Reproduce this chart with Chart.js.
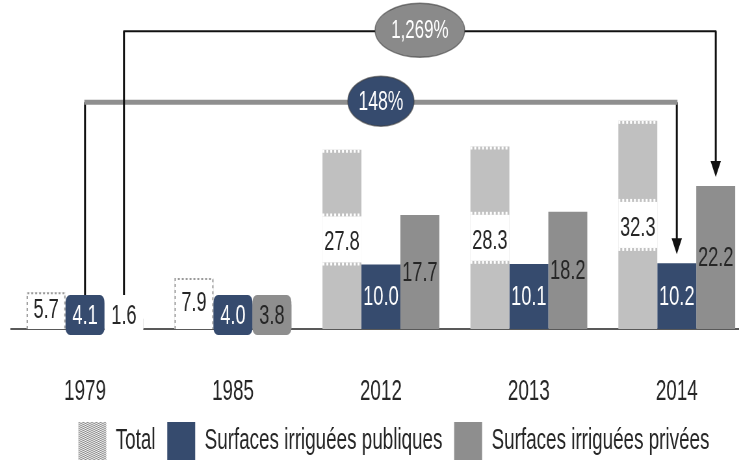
<!DOCTYPE html>
<html>
<head>
<meta charset="utf-8">
<script src="https://cdn.jsdelivr.net/npm/chart.js@4"></script>
<style>
  html, body { margin: 0; padding: 0; overflow: hidden; background: #fff; }
  /* drawn wide, then narrowed so the type comes out tall and condensed */
  #chart { display: block; width: 1160px; height: 470px; transform: scaleX(0.65); transform-origin: 0 0; }
</style>
</head>
<body>
<canvas id="chart" width="1160" height="470"></canvas>
<script>
const years = ['1979', '1985', '2012', '2013', '2014'];
const totalArea = [5.7, 7.9, 27.8, 28.3, 32.3];
const publicArea = [4.1, 4.0, 10.0, 10.1, 10.2];
const privateArea = [1.6, 3.8, 17.7, 18.2, 22.2];
const seriesNames = ['Total', 'Surfaces irriguées publiques', 'Surfaces irriguées privées'];
const growthLabels = ['148%', '1,269%'];

const FONT = '"Liberation Sans", Arial, sans-serif';
const colors = { total: '#c0c0c0', public: '#364b6e', private: '#8e8e8e', text: '#262626' };

const canvas = document.getElementById('chart');

// small diagonal dot pattern for the "Total" legend swatch
function hatchPattern() {
  const c = document.createElement('canvas');
  c.width = 4; c.height = 4;
  const g = c.getContext('2d');
  g.fillStyle = '#f4f4f4';
  g.fillRect(0, 0, 4, 4);
  g.fillStyle = '#8a8a8a';
  for (let i = 0; i < 4; i++) {
    g.fillRect(i, i, 1, 1);
    g.fillRect((i + 2) % 4, i, 1, 1);
  }
  return canvas.getContext('2d').createPattern(c, 'repeat');
}

const LABEL_BOX = 40;

function labelCenter(bar, base) {
  return Math.min((bar.y + base) / 2, base - 14);
}

// value labels; the total bars get a white gap behind their label
const barLabels = {
  id: 'barLabels',
  afterDatasetsDraw(chart) {
    const ctx = chart.ctx;
    const base = chart.scales.y.getPixelForValue(0);
    ctx.save();
    ctx.font = `28px ${FONT}`;
    ctx.textAlign = 'center';
    ctx.textBaseline = 'middle';
    chart.data.datasets.forEach((ds, di) => {
      chart.getDatasetMeta(di).data.forEach((bar, i) => {
        const value = ds.data[i];
        const w = bar.width;
        const left = bar.x - w / 2;
        const h = base - bar.y;
        const mid = (bar.y + base) / 2;
        const text = value.toFixed(1);

        if (di === 0) {
          if (h > 60) {
            const gTop = mid - 23, gBot = mid + 23;
            ctx.fillStyle = '#fff';
            ctx.fillRect(left, gTop, w, gBot - gTop);
            ctx.strokeStyle = '#fff';
            ctx.lineWidth = 3;
            ctx.setLineDash([3, 3]);
            [bar.y + 1.5, gTop - 1.5, gBot + 1.5].forEach(y => {
              ctx.beginPath();
              ctx.moveTo(left, y);
              ctx.lineTo(left + w, y);
              ctx.stroke();
            });
            ctx.setLineDash([]);
            ctx.fillStyle = colors.text;
            ctx.fillText(text, bar.x, mid + 3);
          } else {
            ctx.fillStyle = '#fff';
            ctx.fillRect(left, bar.y, w, h);
            ctx.strokeStyle = '#9a9a9a';
            ctx.lineWidth = 2;
            ctx.setLineDash([3, 3]);
            ctx.beginPath();
            ctx.moveTo(left + 1, base);
            ctx.lineTo(left + 1, bar.y + 1);
            ctx.lineTo(left + w - 1, bar.y + 1);
            ctx.lineTo(left + w - 1, base);
            ctx.stroke();
            ctx.setLineDash([]);
            ctx.fillStyle = colors.text;
            ctx.fillText(text, bar.x, mid);
          }
          return;
        }

        const cy = labelCenter(bar, base);
        const tiny = h < 20;
        if (h < LABEL_BOX) {
          ctx.fillStyle = tiny ? '#fff' : ds.backgroundColor;
          ctx.beginPath();
          ctx.roundRect(left, cy - LABEL_BOX / 2, w, LABEL_BOX, 7);
          ctx.fill();
        }
        ctx.fillStyle = (di === 1 && !tiny) ? '#fff' : colors.text;
        ctx.fillText(text, bar.x, cy + 1);
      });
    });
    ctx.restore();
  }
};

// growth brackets from the 1979 bars to the 2014 bars
const bracketDefs = [
  { dataset: 1, level: 35.2, text: growthLabels[0], fill: colors.public, line: '#8f8f8f', lineWidth: 5, rx: 51, ry: 25, font: 27 },
  { dataset: 2, level: 46.2, text: growthLabels[1], fill: '#8a8a8a', line: '#111', lineWidth: 2, rx: 69, ry: 27, font: 26 }
];

const brackets = {
  id: 'brackets',
  afterDraw(chart) {
    const ctx = chart.ctx;
    const yScale = chart.scales.y;
    const base = yScale.getPixelForValue(0);
    ctx.save();
    bracketDefs.forEach(b => {
      const bars = chart.getDatasetMeta(b.dataset).data;
      const first = bars[0], last = bars[bars.length - 1];
      const y = yScale.getPixelForValue(b.level);
      const startY = labelCenter(first, base) - LABEL_BOX / 2;
      const tipY = last.y - 9;

      ctx.strokeStyle = '#111';
      ctx.lineWidth = 3;
      ctx.beginPath();
      ctx.moveTo(first.x, startY);
      ctx.lineTo(first.x, y);
      ctx.moveTo(last.x, y);
      ctx.lineTo(last.x, tipY - 12);
      ctx.stroke();

      ctx.strokeStyle = b.line;
      ctx.lineWidth = b.lineWidth;
      ctx.beginPath();
      ctx.moveTo(first.x - 1, y);
      ctx.lineTo(last.x + 1, y);
      ctx.stroke();

      ctx.fillStyle = '#111';
      ctx.beginPath();
      ctx.moveTo(last.x, tipY);
      ctx.lineTo(last.x - 8, tipY - 16);
      ctx.lineTo(last.x + 8, tipY - 16);
      ctx.closePath();
      ctx.fill();

      const cx = (first.x + last.x) / 2;
      ctx.fillStyle = b.fill;
      ctx.beginPath();
      ctx.ellipse(cx, y - 1, b.rx, b.ry, 0, 0, Math.PI * 2);
      ctx.fill();
      ctx.strokeStyle = 'rgba(60,60,60,0.6)';
      ctx.lineWidth = 1.5;
      ctx.stroke();

      ctx.fillStyle = '#fff';
      ctx.font = `${b.font}px ${FONT}`;
      ctx.textAlign = 'center';
      ctx.textBaseline = 'middle';
      ctx.fillText(b.text, cx, y);
    });
    ctx.restore();
  }
};

// nudge the centred legend row to the right
const legendShift = {
  id: 'legendShift',
  afterLayout(chart) {
    chart.legend.left += 20;
    chart.legend.right += 20;
  }
};

new Chart(canvas, {
  type: 'bar',
  data: {
    labels: years,
    datasets: [
      { label: seriesNames[0], data: totalArea, backgroundColor: colors.total },
      { label: seriesNames[1], data: publicArea, backgroundColor: colors.public },
      { label: seriesNames[2], data: privateArea, backgroundColor: colors.private }
    ]
  },
  options: {
    responsive: false,
    devicePixelRatio: 1,
    animation: false,
    layout: { padding: { left: 17, right: 5, top: 39, bottom: 0 } },
    datasets: { bar: { categoryPercentage: 0.79, barPercentage: 1, borderWidth: 0 } },
    scales: {
      x: {
        grid: { display: false, drawTicks: false },
        border: { display: true, color: '#595959', width: 2 },
        ticks: { padding: 46, color: '#262626', font: { family: FONT, size: 29 } },
        afterFit: scale => { scale.height = 75; }
      },
      y: { display: false, min: 0, max: 45 }
    },
    plugins: {
      legend: {
        position: 'bottom',
        labels: {
          boxWidth: 43,
          boxHeight: 38,
          padding: 18,
          color: '#262626',
          font: { family: FONT, size: 29 },
          generateLabels: chart => {
            const items = Chart.defaults.plugins.legend.labels.generateLabels(chart);
            items[0].fillStyle = hatchPattern();
            items.forEach(it => { it.lineWidth = 0; });
            return items;
          }
        }
      },
      tooltip: { enabled: false }
    }
  },
  plugins: [barLabels, brackets, legendShift]
});
</script>
</body>
</html>
